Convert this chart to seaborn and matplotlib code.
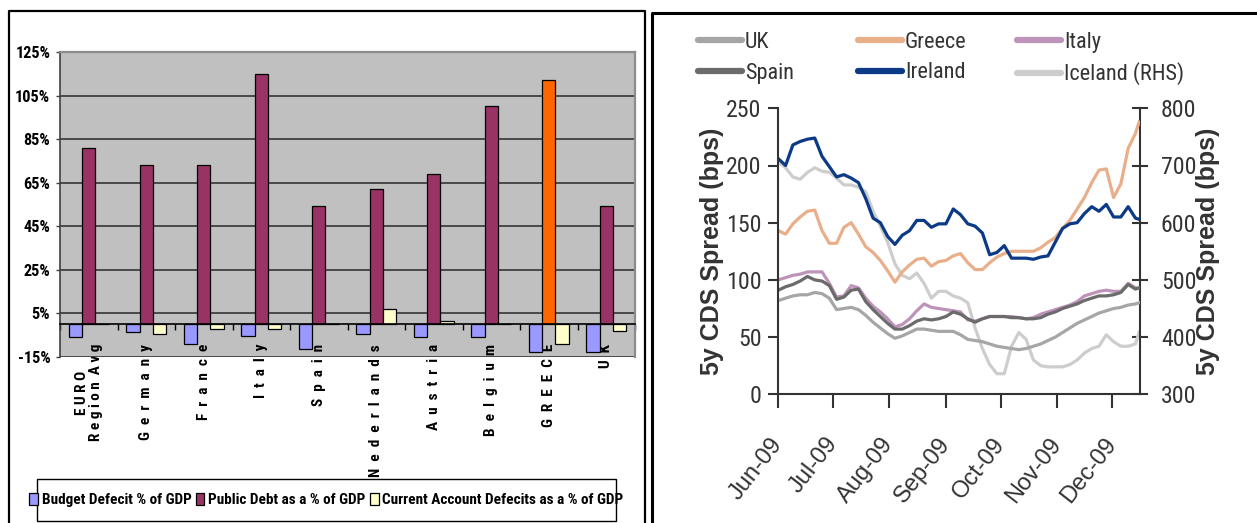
import os
import numpy as np
import pandas as pd
import matplotlib
matplotlib.use("Agg")
import matplotlib.pyplot as plt
import matplotlib.dates as mdates
from matplotlib.lines import Line2D
from matplotlib.patches import Patch, Rectangle
from matplotlib import font_manager
from matplotlib.font_manager import FontProperties
import seaborn as sns

# ---------------- fiscal indicators (bar chart) ----------------
countries = ["EURO Region Avg", "Germany", "France", "Italy", "Spain",
             "Nederlands", "Austria", "Belgium", "GREECE", "UK"]
country_labels = ["E U R O\nR e g i o n  A v g", "G  e  r  m  a  n  y", "F  r  a  n  c  e",
                  "I  t  a  l  y", "S  p  a  i  n", "N  e  d  e  r  l  a  n  d  s",
                  "A  u  s  t  r  i  a", "B  e  l  g  i  u  m", "G  R  E  E  C  E", "U  K"]
bar_series = ["Budget Defecit % of GDP", "Public Debt as a % of GDP",
              "Current Account Defecits as a % of GDP"]
budget_deficit = [-6.0, -3.5, -9.0, -5.5, -11.5, -4.5, -6.0, -6.0, -12.6, -12.6]
public_debt = [81.0, 73.0, 73.0, 115.0, 54.5, 62.0, 69.0, 100.0, 112.0, 54.5]
current_account = [0.0, -4.5, -2.0, -2.0, 0.0, 7.0, 1.5, 0.0, -9.0, -3.0]
pct_ticks = [-15, 5, 25, 45, 65, 85, 105, 125]
pct_tick_labels = ["-15%", "5%", "25%", "45%", "65%", "85%", "105%", "125%"]

# ---------------- 5y CDS spreads (line chart) ----------------
cds_dates = list(pd.date_range("2009-06-01", periods=50, freq="4D")) + [pd.Timestamp("2009-12-16")]
cds_uk = [82, 84, 86, 87, 87, 89, 88, 84, 74, 75, 76, 74, 69, 63, 58, 53, 49, 51, 54, 57,
          57, 56, 55, 55, 55, 52, 48, 47, 46, 44, 42, 41, 40, 39, 40, 42, 44, 47, 50, 54,
          58, 62, 65, 68, 71, 73, 75, 76, 78, 79, 80]
cds_greece = [143, 140, 149, 155, 160, 161, 143, 132, 132, 146, 150, 140, 129, 124, 117, 108, 98, 107, 113, 118,
              119, 112, 116, 117, 121, 123, 115, 109, 109, 115, 120, 123, 125, 125, 125, 125, 128, 133, 137, 145,
              152, 162, 172, 185, 196, 197, 172, 184, 215, 228, 238]
cds_italy = [100, 102, 104, 105, 107, 107, 107, 97, 85, 86, 95, 93, 84, 77, 72, 66, 59, 61, 66, 73,
             79, 76, 75, 74, 73, 72, 65, 64, 66, 68, 68, 68, 68, 67, 66, 67, 70, 72, 74, 76,
             78, 81, 86, 88, 90, 91, 90, 90, 97, 93, 93]
cds_spain = [91, 94, 96, 99, 103, 100, 99, 95, 83, 85, 91, 92, 81, 74, 68, 62, 57, 57, 60, 64,
             66, 65, 66, 68, 72, 70, 66, 63, 66, 68, 68, 68, 67, 67, 66, 66, 67, 70, 72, 75,
             77, 79, 82, 84, 86, 86, 87, 89, 96, 92, 93]
cds_ireland = [206, 200, 218, 221, 223, 224, 208, 199, 190, 192, 189, 185, 171, 154, 150, 138, 131, 139, 143, 152,
               152, 146, 149, 149, 162, 157, 149, 147, 141, 122, 124, 130, 119, 119, 119, 118, 120, 121, 133, 145,
               149, 150, 158, 164, 160, 166, 155, 155, 164, 154, 153]
cds_iceland_rhs = [706, 696, 680, 676, 688, 696, 690, 688, 678, 666, 666, 662, 654, 620, 594, 566, 528, 508, 502, 512,
                   494, 468, 480, 480, 472, 468, 460, 416, 380, 352, 336, 336, 384, 408, 396, 360, 350, 348, 348, 348,
                   352, 360, 372, 380, 384, 404, 392, 384, 384, 388, 408]
month_ticks = pd.to_datetime(["2009-06-01", "2009-07-01", "2009-08-01", "2009-09-01",
                              "2009-10-01", "2009-11-01", "2009-12-01"])
left_ticks = [0, 50, 100, 150, 200, 250]
right_ticks = [300, 400, 500, 600, 700, 800]


# ---------------- fonts ----------------
def condensed_font(bold):
    """Pick a narrow/condensed sans face if one is installed."""
    cands = []
    for f in font_manager.fontManager.ttflist:
        nm = f.name.lower()
        fn = os.path.basename(f.fname).lower()
        st = str(f.stretch).lower()
        narrow = ("narrow" in nm or "narrow" in fn or "condensed" in nm or "condensed" in fn
                  or st in ("condensed", "semi-condensed"))
        if not narrow or "extra" in fn or "ultra" in fn or "semi" in fn or "extra" in st:
            continue
        if "italic" in fn or "oblique" in fn or str(f.style) != "normal":
            continue
        w = f.weight if isinstance(f.weight, int) else (700 if "bold" in str(f.weight) else 400)
        if bold and w < 600:
            continue
        if not bold and w != 400:
            continue
        if "liberation" in nm:
            rank = 0
        elif "arial" in nm:
            rank = 1
        elif "roboto" in nm:
            rank = 2
        elif "noto" in nm:
            rank = 3
        elif "dejavu" in nm:
            rank = 5
        else:
            rank = 4
        cands.append((rank, abs(w - (700 if bold else 400)), f.fname))
    if cands:
        return FontProperties(fname=sorted(cands)[0][2])
    return FontProperties(family="Liberation Sans", weight="bold" if bold else "normal")


NARROW_B = condensed_font(True)
NARROW_R = condensed_font(False)
REG = "Liberation Sans"

bar_colors = {bar_series[0]: "#9999FF", bar_series[1]: "#993366", bar_series[2]: "#FFFFCC"}
greece_debt_color = "#FF6600"
line_colors = {"UK": "#A6A6A6", "Greece": "#E9AE8A", "Italy": "#BE93BA",
               "Spain": "#6B6B6B", "Ireland": "#0C3A86", "Iceland (RHS)": "#CDCDCD"}
TXT = "#333333"

W, H = 1257, 523


def px_rect(x0, y0, x1, y1):
    return [x0 / W, 1 - y1 / H, (x1 - x0) / W, (y1 - y0) / H]


def fx(x):
    return x / W


def fy(y):
    return 1 - y / H


fig = plt.figure(figsize=(W / 100, H / 100), dpi=100)
fig.patch.set_facecolor("white")
renderer = fig.canvas.get_renderer()


def fitted(base, sample, target_px, cap=40):
    """Font properties sized so that `sample` spans roughly target_px pixels."""
    p = base.copy()
    p.set_size(10)
    w, _, _ = renderer.get_text_width_height_descent(sample, p, ismath=False)
    p.set_size(min(cap, 10 * target_px / w))
    return p


fp_pct = fitted(NARROW_B, "125%", 35)
fp_cat = fitted(NARROW_B, "G  e  r  m  a  n  y", 97)
fp_barleg = fitted(NARROW_B, bar_series[2], 240)
fp_tick = fitted(NARROW_R, "250", 35)
fp_lineleg = fitted(NARROW_R, "Greece", 61)

# ======================= left panel: bar chart =======================
axL = fig.add_axes(px_rect(60, 52, 635, 357))
bar_df = pd.DataFrame({
    "country": countries * 3,
    "series": [s for s in bar_series for _ in countries],
    "value": budget_deficit + public_debt + current_account,
})
sns.barplot(data=bar_df, x="country", y="value", hue="series", order=countries,
            hue_order=bar_series, palette=bar_colors, width=0.7, saturation=1,
            edgecolor="black", linewidth=0.9, errorbar=None, legend=False, ax=axL, zorder=3)
axL.containers[1][countries.index("GREECE")].set_facecolor(greece_debt_color)

axL.set_facecolor("#C0C0C0")
axL.set_xlim(-0.5, len(countries) - 0.5)
axL.set_ylim(-15, 125)
axL.set_yticks(pct_ticks)
axL.set_yticklabels(pct_tick_labels)
for lab in axL.get_yticklabels():
    lab.set_fontproperties(fp_pct)
axL.grid(axis="y", color="#404040", linewidth=1.3, zorder=1)
axL.set_axisbelow(True)
axL.set_xlabel("")
axL.set_ylabel("")
for side in ["top", "right"]:
    axL.spines[side].set_color("#8C8C8C")
    axL.spines[side].set_linewidth(1.6)
axL.spines["left"].set_color("#404040")
axL.spines["left"].set_linewidth(1.2)
axL.spines["bottom"].set_position(("data", 0))
axL.spines["bottom"].set_color("black")
axL.spines["bottom"].set_linewidth(1.2)
axL.spines["bottom"].set_zorder(4)
axL.tick_params(axis="y", direction="out", length=3, width=1, color="#404040", pad=4)
axL.set_xticks(range(len(countries)))
axL.set_xticklabels(country_labels, rotation=90, multialignment="center", linespacing=1.0)
for lab in axL.get_xticklabels():
    lab.set_fontproperties(fp_cat)
axL.set_xticks(np.arange(-0.5, len(countries)), minor=True)
axL.tick_params(axis="x", which="major", length=0, pad=14)
axL.tick_params(axis="x", which="minor", direction="out", length=4, width=1, color="black")

# legend box of the bar chart
fig.add_artist(Rectangle((fx(37), fy(521)), fx(616) - fx(37), fy(479) - fy(521),
                         transform=fig.transFigure, facecolor="white", edgecolor="black",
                         linewidth=1.0, zorder=5))
bar_handles = [Patch(facecolor=bar_colors[s], edgecolor="black", linewidth=0.9) for s in bar_series]
leg = fig.legend(bar_handles, bar_series, loc="center", ncol=3,
                 bbox_to_anchor=(fx(326.5), fy(500)), prop=fp_barleg,
                 handlelength=0.55, handleheight=0.8, handletextpad=0.25, columnspacing=0.3,
                 borderpad=0, frameon=False)
leg.set_zorder(6)

# ======================= right panel: CDS lines =======================
axR = fig.add_axes(px_rect(778.3, 108.3, 1140, 394.3))
axR2 = axR.twinx()
axR.set_zorder(2)
axR2.set_zorder(1)
axR.patch.set_visible(False)

main_order = ["UK", "Italy", "Spain", "Greece", "Ireland"]
main_values = {"UK": cds_uk, "Italy": cds_italy, "Spain": cds_spain,
               "Greece": cds_greece, "Ireland": cds_ireland}
cds_df = pd.concat([pd.DataFrame({"date": cds_dates, "spread": main_values[c], "country": c})
                    for c in main_order], ignore_index=True)
sns.lineplot(data=cds_df, x="date", y="spread", hue="country", hue_order=main_order,
             palette=line_colors, linewidth=2.3, legend=False, ax=axR)
ice_df = pd.DataFrame({"date": cds_dates, "spread": cds_iceland_rhs})
sns.lineplot(data=ice_df, x="date", y="spread", color=line_colors["Iceland (RHS)"],
             linewidth=2.3, legend=False, ax=axR2)

x_start = pd.Timestamp("2009-06-01")
axR.set_xlim(x_start, x_start + pd.Timedelta(days=198.5))
axR.set_ylim(0, 250)
axR2.set_ylim(300, 800)
axR.set_yticks(left_ticks)
axR2.set_yticks(right_ticks)
axR.set_xticks(month_ticks)
axR.xaxis.set_major_formatter(mdates.DateFormatter("%b-%y"))
axR.set_xlabel("")
axR2.set_xlabel("")

for a in (axR, axR2):
    for s in a.spines.values():
        s.set_color(TXT)
        s.set_linewidth(1.5)
    a.spines["top"].set_visible(False)
axR.spines["right"].set_visible(False)
axR2.spines["left"].set_visible(False)
axR2.spines["bottom"].set_visible(False)

axR.tick_params(axis="y", direction="out", length=7, width=1.5, color=TXT, pad=5, labelcolor=TXT)
axR.tick_params(axis="x", direction="out", length=10, width=1.5, color=TXT, pad=23,
                labelsize=17, labelcolor=TXT)
axR2.tick_params(axis="y", direction="inout", length=12, width=1.5, color=TXT, pad=9, labelcolor=TXT)
for lab in axR.get_yticklabels() + axR2.get_yticklabels():
    lab.set_fontproperties(fp_tick)
for lab in axR.get_xticklabels():
    lab.set_fontfamily(REG)
    lab.set_rotation(52)
    lab.set_ha("right")
    lab.set_va("center")
    lab.set_rotation_mode("anchor")

ylab_kw = dict(fontfamily=REG, fontweight="bold", fontsize=18, color=TXT)
axR.set_ylabel("5y CDS Spread (bps)", **ylab_kw)
axR2.set_ylabel("5y CDS Spread (bps)", rotation=90, **ylab_kw)
axR.yaxis.set_label_coords(-0.15, 0.5)
axR2.yaxis.set_label_coords(1.155, 0.5)

# legend: three columns of two entries each
legend_cols = [["UK", "Spain"], ["Greece", "Ireland"], ["Italy", "Iceland (RHS)"]]
legend_x = [698, 858, 1017]
leg_px = fp_lineleg.get_size() * 100 / 72
for names, x0 in zip(legend_cols, legend_x):
    hs = [Line2D([0], [0], color=line_colors[n], linewidth=4.5, solid_capstyle="round") for n in names]
    lg = fig.legend(hs, names, loc="upper left", bbox_to_anchor=(fx(x0), fy(32)),
                    frameon=False, prop=fp_lineleg,
                    handlelength=44 / leg_px, handletextpad=3 / leg_px, labelspacing=9.5 / leg_px,
                    borderpad=0, borderaxespad=0)
    for t in lg.get_texts():
        t.set_color(TXT)

# ======================= panel frames =======================
frame_kw = dict(color="black", linewidth=1.6, transform=fig.transFigure)
fig.add_artist(Line2D([fx(9), fx(9), fx(645), fx(645)], [0, fy(11), fy(11), 0], **frame_kw))
fig.add_artist(Line2D([fx(652), fx(652), 1.0], [0, fy(13), fy(13)], linewidth=2.2,
                      color="black", transform=fig.transFigure))

fig.savefig("out.png", dpi=100, facecolor="white")
